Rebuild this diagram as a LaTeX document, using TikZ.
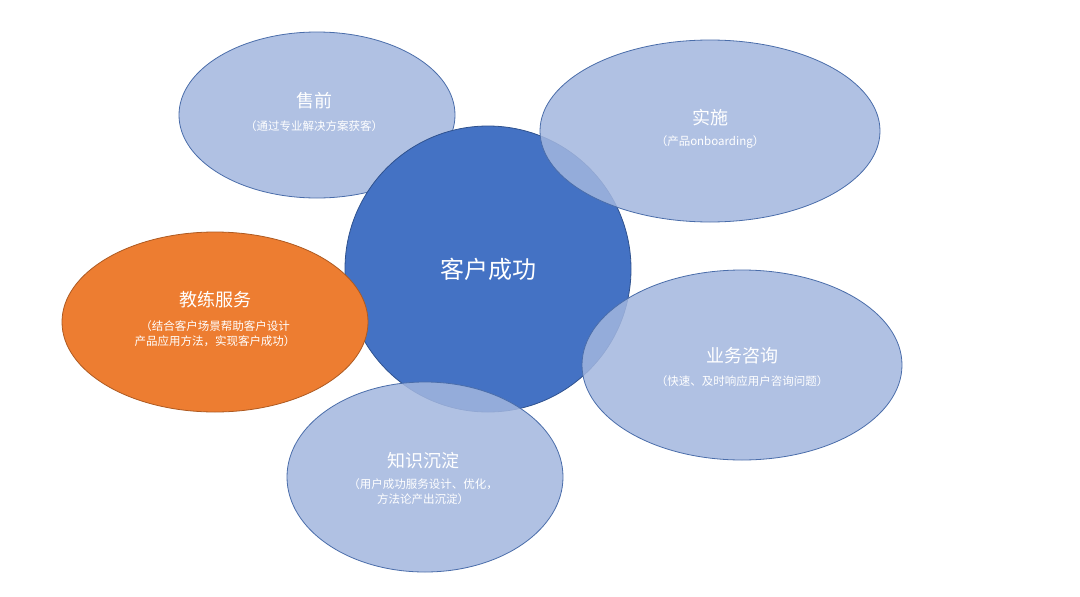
\documentclass[tikz,border=0pt]{standalone}
\usepackage{fontspec}
\setmainfont{Noto Sans CJK SC}
\begin{document}
\begin{tikzpicture}[x=1pt,y=-1pt,
  sat/.style={fill=blue!10!cyan!5!white, fill=satfill, draw=satline, line width=0.8pt, fill opacity=0.85},
  ttl/.style={text=white, font=\fontsize{18}{22}\selectfont, align=center},
  sub/.style={text=white, font=\fontsize{11.5}{15}\selectfont, align=center}]
\definecolor{satfill}{HTML}{A3B7DF}
\definecolor{satline}{HTML}{4A6DAA}
\definecolor{cfill}{HTML}{4472C4}
\definecolor{cline}{HTML}{2F528F}
\definecolor{ofill}{HTML}{ED7D31}
\definecolor{oline}{HTML}{AE5A21}
\useasboundingbox[fill=white] (0,0) rectangle (1080,597);
\path[sat] (317,115) ellipse [x radius=138, y radius=83];
\path[fill=cfill, draw=cline, line width=0.8pt] (488,269) circle [radius=143];
\path[sat] (710,131) ellipse [x radius=170, y radius=91];
\path[fill=ofill, draw=oline, line width=0.8pt] (215,322) ellipse [x radius=153, y radius=90];
\path[sat] (742,365) ellipse [x radius=160, y radius=95];
\path[sat] (425,477) ellipse [x radius=138, y radius=95];
\node[ttl] (t1) at (314,101) {售前};
\node[sub] (s1) at (314,126) {（通过专业解决方案获客）};
\node[ttl] (t2) at (710,118) {实施};
\node[sub] (s2) at (710,142) {（产品onboarding）};
\node[text=white, font=\fontsize{24}{28}\selectfont] (c) at (488,269) {客户成功};
\node[ttl] (t3) at (215,300) {教练服务};
\node[sub] (s3) at (215,334) {（结合客户场景帮助客户设计\\产品应用方法，实现客户成功）};
\node[ttl] (t4) at (742,356) {业务咨询};
\node[sub] (s4) at (742,381) {（快速、及时响应用户咨询问题）};
\node[ttl] (t5) at (423,461) {知识沉淀};
\node[sub] (s5) at (423,492) {（用户成功服务设计、优化，\\方法论产出沉淀）};
\end{tikzpicture}
\end{document}
